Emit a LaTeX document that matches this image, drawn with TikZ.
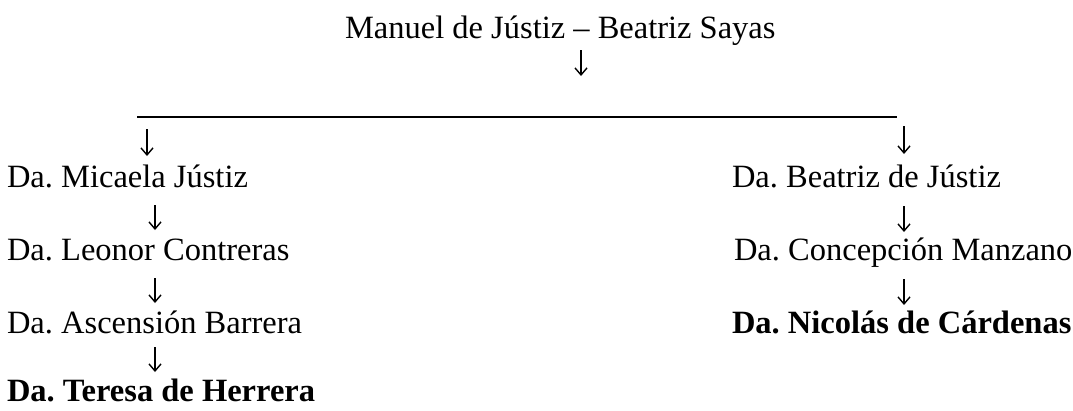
\documentclass[tikz,border=0pt]{standalone}
\usepackage{fontspec}
\setmainfont{Liberation Serif}
\usetikzlibrary{arrows.meta}
\frenchspacing
\tikzset{
  person/.style={anchor=base west, inner sep=0pt, outer sep=0pt, font=\frenchspacing\fontsize{32.5}{39}\selectfont},
  personbold/.style={person, font=\frenchspacing\fontsize{32.5}{39}\selectfont\bfseries},
  arr/.style={line width=1.4pt, -{Straight Barb[length=7pt,width=12pt,line width=1.4pt]}},
  bar/.style={line width=1.8pt}
}
\begin{document}
\begin{tikzpicture}[x=1pt,y=-1pt]
\useasboundingbox (0,0) rectangle (1073,410);
% nodes
\node[person] (top) at (345,38) {Manuel de Jústiz – Beatriz Sayas};
\node[person] (l1) at (7,187) {Da. Micaela Jústiz};
\node[person] (l2) at (7,260) {Da. Leonor Contreras};
\node[person] (l3) at (7,333) {Da. Ascensión Barrera};
\node[personbold] (l4) at (7,401) {Da. Teresa de Herrera};
\node[person] (r1) at (732,187) {Da. Beatriz de Jústiz};
\node[person] (r2) at (734,260) {Da. Concepción Manzano};
\node[personbold] (r3) at (732,333) {Da. Nicolás de Cárdenas};
% coordinates
\coordinate (a0s) at (581,50);
\coordinate (a0e) at (581,76);
\coordinate (barL) at (137,117);
\coordinate (barR) at (897,117);
\coordinate (a1s) at (147,129);
\coordinate (a1e) at (147,156);
\coordinate (a2s) at (155,205);
\coordinate (a2e) at (155,230);
\coordinate (a3s) at (155,278);
\coordinate (a3e) at (155,303);
\coordinate (a4s) at (155,347);
\coordinate (a4e) at (155,372);
\coordinate (b1s) at (904,126);
\coordinate (b1e) at (904,154);
\coordinate (b2s) at (904,206);
\coordinate (b2e) at (904,232);
\coordinate (b3s) at (904,279);
\coordinate (b3e) at (904,305);
% connectors
\draw[arr] (a0s) -- (a0e);
\draw[bar] (barL) -- (barR);
\draw[arr] (a1s) -- (a1e);
\draw[arr] (a2s) -- (a2e);
\draw[arr] (a3s) -- (a3e);
\draw[arr] (a4s) -- (a4e);
\draw[arr] (b1s) -- (b1e);
\draw[arr] (b2s) -- (b2e);
\draw[arr] (b3s) -- (b3e);
\end{tikzpicture}
\end{document}
